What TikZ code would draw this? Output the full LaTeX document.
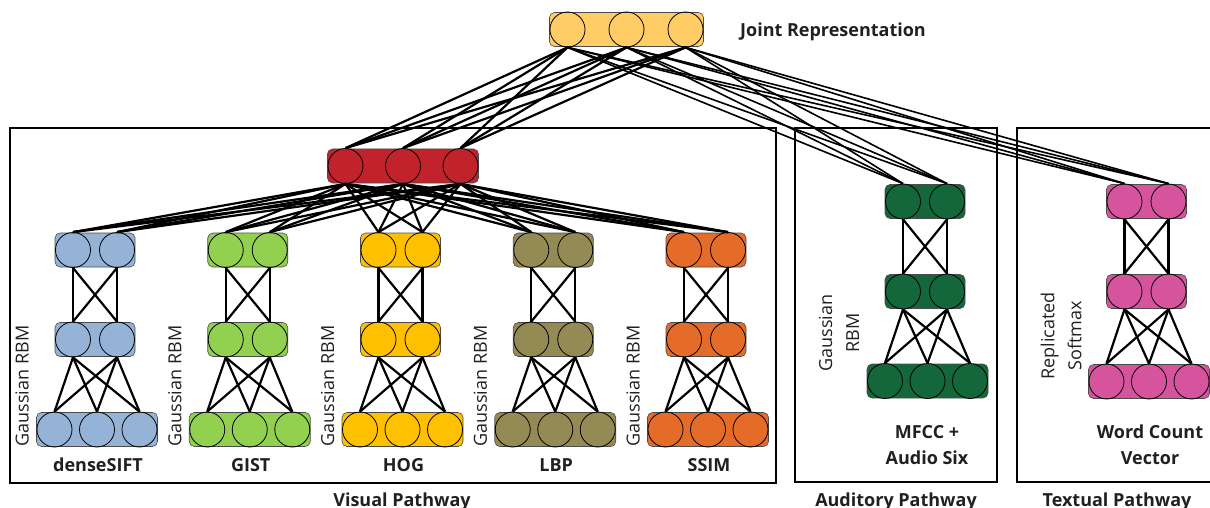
\documentclass[tikz,border=0pt]{standalone}
\usepackage{fontspec}
\setmainfont{Open Sans}

\definecolor{cJoint}{HTML}{FFCC66}
\definecolor{cRed}{HTML}{C1222B}
\definecolor{cBlue}{HTML}{95B3D7}
\definecolor{cLime}{HTML}{92D050}
\definecolor{cGold}{HTML}{FFC000}
\definecolor{cOlive}{HTML}{948A54}
\definecolor{cOrange}{HTML}{E56C28}
\definecolor{cForest}{HTML}{13673A}
\definecolor{cPink}{HTML}{D6549E}
\definecolor{cInk}{HTML}{231F20}

% one layer of units: name, centre x, centre y, number of units, unit spacing, fill
\newcommand\netlayer[6]{%
  \pgfmathsetmacro\layerwidth{(#4-1)*#5+36}%
  \node[layerbox, fill=#6, minimum width=\layerwidth pt] (#1) at (#2,#3) {};
  \foreach \u in {1,...,#4}{%
    \node[unit] (#1-\u) at ({#2+(\u-(#4+1)/2)*#5},#3) {};
  }%
}

\begin{document}
\begin{tikzpicture}[x=1pt,y=-1pt,
  unit/.style={circle, draw=black, line width=0.8pt, minimum size=35pt, inner sep=0pt},
  layerbox/.style={rectangle, rounded corners=5pt, draw=black!70, line width=0.6pt,
                   minimum height=34pt, inner sep=0pt},
  link/.style={line width=2.2pt, black},
  longlink/.style={line width=1.6pt, black},
  frame/.style={line width=2pt, black},
  feat/.style={font=\fontsize{18}{26}\selectfont\bfseries, text=cInk, align=center},
  rbm/.style={font=\fontsize{18}{27}\selectfont, text=cInk, rotate=90, align=center},
]
\useasboundingbox (0,0) rectangle (1210,508);

% pathway frames
\draw[frame] (10,128) rectangle (776,483);
\draw[frame] (795,128) rectangle (997,482);
\draw[frame] (1017,128) rectangle (1218,482);
\node[feat, anchor=base] (visLab) at (402,506) {Visual Pathway};
\node[feat, anchor=base] (audLab) at (896,506) {Auditory Pathway};
\node[feat, anchor=base] (txtLab) at (1117,506) {Textual Pathway};

% joint layer and the shared visual layer
\netlayer{joint}{626.5}{29.5}{3}{59}{cJoint}
\node[feat, anchor=base] (jointLab) at (833,37) {Joint Representation};
\netlayer{red}{403}{166}{3}{57.5}{cRed}

% visual feature columns
\foreach \nm/\cx/\col/\lab in {ds/95/cBlue/denseSIFT, gist/247.75/cLime/GIST,
    hog/400.5/cGold/HOG, lbp/553.25/cOlive/LBP, ssim/706/cOrange/SSIM}{
  \netlayer{\nm-t}{\cx}{250}{2}{44}{\col}
  \netlayer{\nm-m}{\cx}{339.5}{2}{44}{\col}
  \netlayer{\nm-b}{\cx+2}{429.5}{3}{42.5}{\col}
  \node[rbm] (\nm-rbm) at (\cx-73,386) {Gaussian RBM};
  \node[feat, anchor=base] (\nm-lab) at (\cx+3,471) {\lab};
  \foreach \i in {1,2}{
    \foreach \j in {1,2}{\draw[link] (\nm-t-\i.south) -- (\nm-m-\j.north);}
    \foreach \j in {1,2,3}{\draw[link] (\nm-m-\i.south) -- (\nm-b-\j.north);}
  }
  \foreach \i in {1,2,3}{
    \foreach \j in {1,2}{\draw[link] (red-\i.south) -- (\nm-t-\j.north);}
  }
}

% auditory column
\netlayer{aud-t}{925}{201.5}{2}{44}{cForest}
\netlayer{aud-m}{925}{291.5}{2}{44}{cForest}
\netlayer{aud-b}{927.5}{381}{3}{42.5}{cForest}
\node[rbm] (aud-rbm) at (839,333) {Gaussian\\RBM};
\node[feat, anchor=base] (aud-lab) at (927,464) {MFCC +\\Audio Six};

% textual column
\netlayer{txt-t}{1146.5}{201.5}{2}{44}{cPink}
\netlayer{txt-m}{1146.5}{291.5}{2}{44}{cPink}
\netlayer{txt-b}{1149}{381.5}{3}{42.5}{cPink}
\node[rbm] (txt-rbm) at (1061,336) {Replicated\\Softmax};
\node[feat, anchor=base] (txt-lab) at (1150,464) {Word Count\\Vector};

\foreach \c in {aud,txt}{
  \foreach \i in {1,2}{
    \foreach \j in {1,2}{\draw[link] (\c-t-\i.south) -- (\c-m-\j.north);}
    \foreach \j in {1,2,3}{\draw[link] (\c-m-\i.south) -- (\c-b-\j.north);}
  }
}

% joint connections
\foreach \i in {1,2,3}{
  \foreach \j in {1,2,3}{\draw[link] (joint-\i.south) -- (red-\j.north);}
  \foreach \j in {1,2}{
    \draw[longlink] (joint-\i.south) -- (aud-t-\j.north);
    \draw[longlink] (joint-\i.south) -- (txt-t-\j.north);
  }
}
\end{tikzpicture}
\end{document}
